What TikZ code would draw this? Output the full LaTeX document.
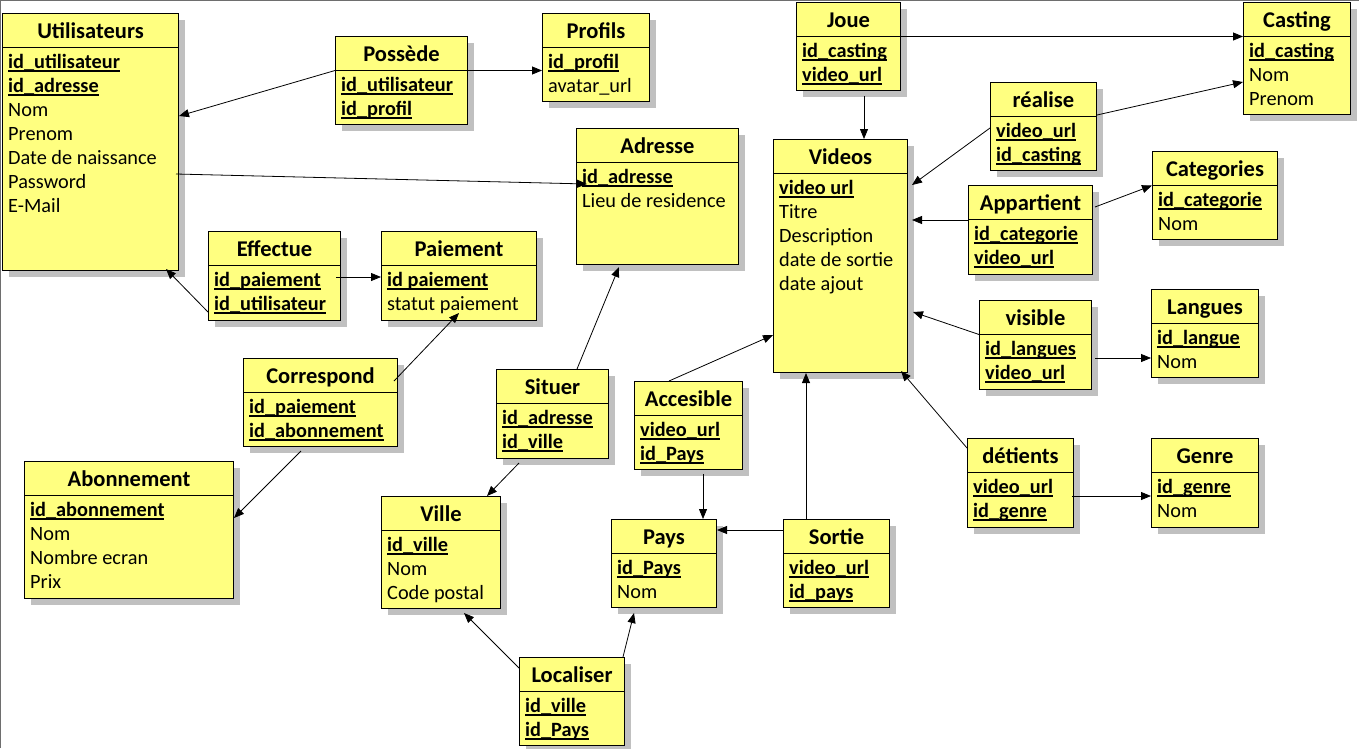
\documentclass[tikz,border=0pt]{standalone}
\usepackage{fontspec}
\setmainfont{Carlito}
\usetikzlibrary{shadows,arrows.meta}

\definecolor{entfill}{RGB}{255,255,128}
\definecolor{entshade}{RGB}{192,192,192}
\definecolor{framegray}{RGB}{110,110,110}

\newcommand{\pk}[1]{\setbox0\hbox{\bfseries #1}\rlap{\rule[-2.6pt]{\wd0}{1.1pt}}\box0}
\newcommand{\entity}[7]{%
  \node[entbox, minimum width=#4pt, minimum height=#5pt] (#1) at (#2,-#3) {};
  \draw[line width=1pt] (#1.north west) ++(0,-34.5) coordinate (#1-hd) -- ++(#4,0);
  \node[enttitle] (#1-title) at ([yshift=-25.5pt]#1.north) {#6};
  \node[entfields] (#1-body) at (#1-hd) {#7};
}

\begin{document}
\begin{tikzpicture}[x=1pt,y=1pt,
    entbox/.style={draw, line width=1pt, fill=entfill, anchor=north west, inner sep=0pt,
      drop shadow={shadow xshift=6pt, shadow yshift=-6.5pt, fill=entshade, opacity=1}},
    enttitle/.style={anchor=base, inner sep=0pt, font=\bfseries\fontsize{22.5}{27}\selectfont},
    entfields/.style={anchor=north west, align=left, inner xsep=6pt, inner ysep=7pt,
      font=\fontsize{20.3}{24}\selectfont},
    fk/.style={-{Triangle[length=10pt,width=8pt]}, line width=0.8pt}]
  \useasboundingbox (0,0) rectangle (1359,-748);
  \fill[white] (0,0) rectangle (1359,-748);
  \draw[framegray, line width=1.4pt] (0.7,-748) -- (0.7,-0.7) -- (1359,-0.7);

  \entity{util}{2}{13}{176}{257}{Utilisateurs}{\pk{id\_utilisateur}\\\pk{id\_adresse}\\Nom\\Prenom\\Date de naissance\\Password\\E-Mail}
  \entity{possede}{335}{36}{132}{88}{Possède}{\pk{id\_utilisateur}\\\pk{id\_profil}}
  \entity{profils}{542}{13}{107}{88}{Profils}{\pk{id\_profil}\\avatar\_url}
  \entity{adresse}{576}{128}{162}{136}{Adresse}{\pk{id\_adresse}\\Lieu de residence}
  \entity{joue}{796}{2}{104}{88}{Joue}{\pk{id\_casting}\\\pk{video\_url}}
  \entity{casting}{1243}{2}{107}{112}{Casting}{\pk{id\_casting}\\Nom\\Prenom}
  \entity{realise}{990}{82}{106}{88}{réalise}{\pk{video\_url}\\\pk{id\_casting}}
  \entity{videos}{773}{139}{134}{233}{Videos}{\pk{video url}\\Titre\\Description\\date de sortie\\date ajout}
  \entity{categories}{1152}{151}{125}{88}{Categories}{\pk{id\_categorie}\\Nom}
  \entity{appartient}{968}{185}{124}{89}{Appartient}{\pk{id\_categorie}\\\pk{video\_url}}
  \entity{effectue}{208}{231}{132}{89}{Effectue}{\pk{id\_paiement}\\\pk{id\_utilisateur}}
  \entity{paiement}{381}{231}{155}{89}{Paiement}{\pk{id paiement}\\statut paiement}
  \entity{correspond}{243}{358}{154}{88}{Correspond}{\pk{id\_paiement}\\\pk{id\_abonnement}}
  \entity{abonnement}{24}{461}{209}{137}{Abonnement}{\pk{id\_abonnement}\\Nom\\Nombre ecran\\Prix}
  \entity{situer}{496}{369}{112}{89}{Situer}{\pk{id\_adresse}\\\pk{id\_ville}}
  \entity{ville}{381}{496}{119}{112}{Ville}{\pk{id\_ville}\\Nom\\Code postal}
  \entity{accesible}{634}{381}{108}{88}{Accesible}{\pk{video\_url}\\\pk{id\_Pays}}
  \entity{pays}{611}{519}{105}{88}{Pays}{\pk{id\_Pays}\\Nom}
  \entity{sortie}{783}{519}{106}{88}{Sortie}{\pk{video\_url}\\\pk{id\_pays}}
  \entity{localiser}{519}{657}{105}{88}{Localiser}{\pk{id\_ville}\\\pk{id\_Pays}}
  \entity{visible}{979}{300}{112}{89}{visible}{\pk{id\_langues}\\\pk{video\_url}}
  \entity{langues}{1151}{289}{107}{88}{Langues}{\pk{id\_langue}\\Nom}
  \entity{detients}{967}{438}{106}{89}{détients}{\pk{video\_url}\\\pk{id\_genre}}
  \entity{genre}{1151}{438}{107}{89}{Genre}{\pk{id\_genre}\\Nom}

  \draw[fk] (possede-hd) -- ([yshift=-103pt]util.north east);
  \draw[fk] (possede.east |- possede-hd) -- (profils.west |- possede-hd);
  \draw[fk] ([shift={(-3,-161)}]util.north east) -- ([shift={(11,-56)}]adresse.north west);
  \draw[fk] ([shift={(-5,-46)}]effectue.north east) coordinate (ep) -- (ep -| paiement.west);
  \draw[fk] ([yshift=-81pt]effectue.north west) -- ([shift={(-13,2)}]util.south east);
  \draw[fk] ([shift={(-4,-23)}]correspond.north east) -- ([shift={(78,-82)}]paiement.north west);
  \draw[fk] ([shift={(58,-4)}]correspond.south west) -- ([yshift=-57pt]abonnement.north east);
  \draw[fk] ([shift={(23,-4)}]situer.south west) -- ([xshift=-14pt]ville.north east);
  \draw[fk] ([xshift=81pt]situer.north west) -- ([shift={(43,-2)}]adresse.south west);
  \draw[fk] ([yshift=-11pt]localiser.north west) -- ([shift={(83,-4)}]ville.south west);
  \draw[fk] ([xshift=-2pt]localiser.north east) -- ([shift={(23,-5)}]pays.south west);
  \draw[fk] ([shift={(69,-4)}]accesible.south west) coordinate (ap) -- (ap |- pays.north);
  \draw[fk] ([xshift=35pt]accesible.north west) -- ([yshift=-196pt]videos.north west);
  \draw[fk] ([yshift=-11pt]sortie.north west) coordinate (sp) -- (sp -| pays.east);
  \draw[fk] ([xshift=23pt]sortie.north west) coordinate (sv) -- (sv |- videos.south);
  \draw[fk] ([yshift=-10pt]detients.north west) -- ([shift={(-7,2)}]videos.south east);
  \draw[fk] ([shift={(-2,-58)}]detients.north east) coordinate (dg) -- (dg -| genre.west);
  \draw[fk] (visible-hd) -- ([shift={(5,-173)}]videos.north east);
  \draw[fk] ([shift={(3,-58)}]visible.north east) coordinate (vl) -- (vl -| langues.west);
  \draw[fk] ([yshift=-35pt]appartient.north west) -- ([shift={(4,-81)}]videos.north east);
  \draw[fk] ([shift={(2,-22)}]appartient.north east) -- (categories-hd);
  \draw[fk] ([yshift=-46pt]realise.north west) -- ([shift={(4,-46)}]videos.north east);
  \draw[fk] ([yshift=-33pt]realise.north east) -- ([yshift=-80pt]casting.north west);
  \draw[fk] (joue-hd -| joue.east) -- (casting-hd);
  \draw[fk] ([shift={(68,-5)}]joue.south west) coordinate (jv) -- (jv |- videos.north);
\end{tikzpicture}
\end{document}
